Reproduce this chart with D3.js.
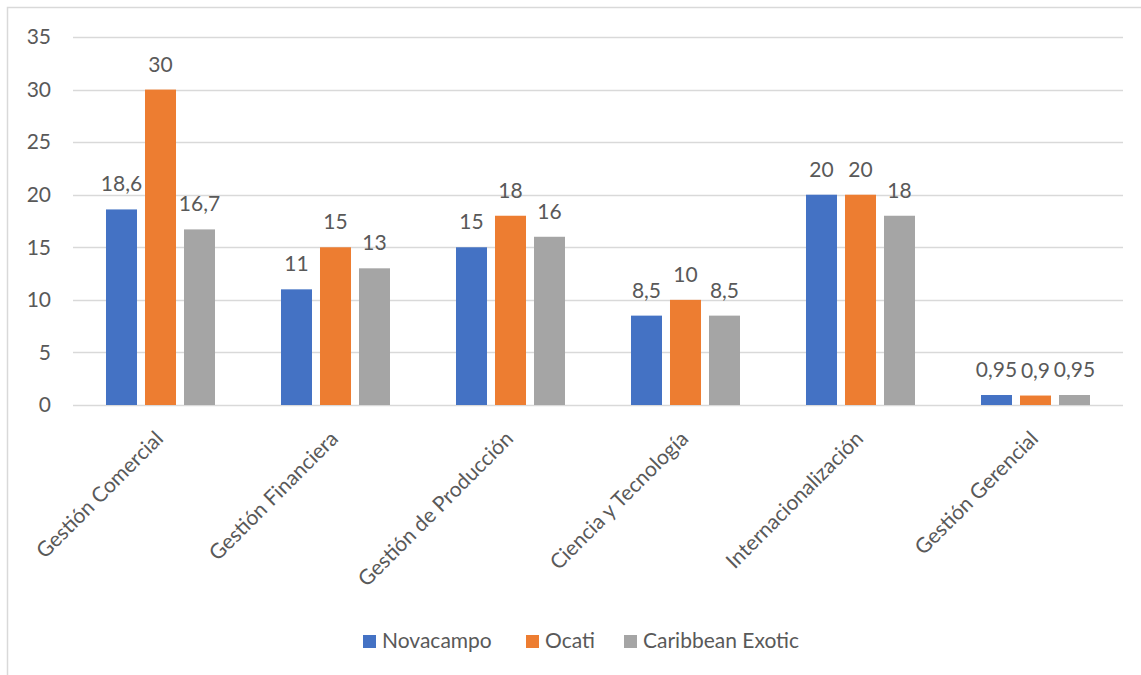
<!DOCTYPE html>
<html>
<head>
<meta charset="utf-8">
<script src="https://cdn.jsdelivr.net/npm/d3@7"></script>
<style>
  html, body { margin: 0; padding: 0; background: #fff; }
  svg { display: block; font-family: Lato, "Open Sans", sans-serif; }
</style>
</head>
<body>
<svg id="chart" width="1141" height="675"></svg>
<script>
// Categories and series
const categories = [
  "Gestión Comercial",
  "Gestión Financiera",
  "Gestión de Producción",
  "Ciencia y Tecnología",
  "Internacionalización",
  "Gestión Gerencial"
];
const seriesNames = ["Novacampo", "Ocati", "Caribbean Exotic"];
const novacampo = [18.6, 11, 15, 8.5, 20, 0.95];
const ocati = [30, 15, 18, 10, 20, 0.9];
const caribbean = [16.7, 13, 16, 8.5, 18, 0.95];
const yTicks = [0, 5, 10, 15, 20, 25, 30, 35];
const colors = ["#4472C4", "#ED7D31", "#A5A5A5"];

const seriesValues = [novacampo, ocati, caribbean];
const rows = categories.map((c, i) => ({
  category: c,
  values: seriesNames.map((s, j) => ({ key: s, value: seriesValues[j][i] }))
}));

const svg = d3.select("#chart");
const textColor = "#595959";
const gridColor = "#D9D9D9";
const fontSize = 21;

// Chart area frame
svg.append("rect")
  .attr("x", 7.5).attr("y", 7.5)
  .attr("width", 1200).attr("height", 700)
  .attr("fill", "none")
  .attr("stroke", gridColor)
  .attr("stroke-width", 1.5);

const plot = { left: 73, right: 1123, top: 37, bottom: 405 };

const x0 = d3.scaleBand()
  .domain(categories)
  .range([plot.left, plot.right])
  .paddingInner(0)
  .paddingOuter(0);

const x1 = d3.scaleBand()
  .domain(seriesNames)
  .range([0, x0.bandwidth()])
  .paddingInner(0.205)
  .paddingOuter(0.846);

const y = d3.scaleLinear()
  .domain([0, 35])
  .range([plot.bottom, plot.top]);

const color = d3.scaleOrdinal().domain(seriesNames).range(colors);

// Horizontal gridlines
svg.append("g")
  .selectAll("line")
  .data(yTicks)
  .join("line")
  .attr("x1", plot.left)
  .attr("x2", plot.right)
  .attr("y1", d => Math.round(y(d)) + 0.5)
  .attr("y2", d => Math.round(y(d)) + 0.5)
  .attr("stroke", gridColor)
  .attr("stroke-width", 1.5);

// Y axis labels
const yAxis = d3.axisLeft(y).tickValues(yTicks).tickSize(0).tickPadding(0)
  .tickFormat(d => d);
const yG = svg.append("g")
  .attr("transform", `translate(${plot.left - 22},0)`)
  .call(yAxis);
yG.select(".domain").remove();
yG.selectAll("text")
  .attr("fill", textColor)
  .attr("font-size", fontSize)
  .attr("font-family", "Lato, 'Open Sans', sans-serif");

// Bars
const groups = svg.append("g")
  .selectAll("g")
  .data(rows)
  .join("g")
  .attr("transform", d => `translate(${x0(d.category)},0)`);

groups.selectAll("rect")
  .data(d => d.values)
  .join("rect")
  .attr("x", d => x1(d.key))
  .attr("width", x1.bandwidth())
  .attr("y", d => y(d.value))
  .attr("height", d => y(0) - y(d.value))
  .attr("fill", d => color(d.key));

// Value labels
const fmt = v => String(v).replace(".", ",");
groups.selectAll("text")
  .data(d => d.values)
  .join("text")
  .attr("x", d => x1(d.key) + x1.bandwidth() / 2)
  .attr("y", d => y(d.value) - 18)
  .attr("text-anchor", "middle")
  .attr("fill", textColor)
  .attr("font-size", fontSize)
  .text(d => fmt(d.value));

// Category labels, rotated
const xAxis = d3.axisBottom(x0).tickSize(0).tickPadding(0);
const xG = svg.append("g")
  .attr("transform", `translate(0,${plot.bottom})`)
  .call(xAxis);
xG.select(".domain").remove();
xG.selectAll("text")
  .attr("fill", textColor)
  .attr("font-size", fontSize)
  .attr("font-family", "Lato, 'Open Sans', sans-serif")
  .attr("text-anchor", "end")
  .attr("dy", null)
  .attr("y", 0)
  .attr("dominant-baseline", "central")
  .attr("transform", "translate(-2,29) rotate(-45)");

// Legend
const legendItems = [
  { key: "Novacampo", x: 363 },
  { key: "Ocati", x: 526 },
  { key: "Caribbean Exotic", x: 624 }
];
const legend = svg.append("g");
const li = legend.selectAll("g")
  .data(legendItems)
  .join("g")
  .attr("transform", d => `translate(${d.x},635)`);
li.append("rect")
  .attr("width", 13).attr("height", 13)
  .attr("fill", d => color(d.key));
li.append("text")
  .attr("x", 19)
  .attr("y", 13)
  .attr("fill", textColor)
  .attr("font-size", fontSize)
  .text(d => d.key);
</script>
</body>
</html>
